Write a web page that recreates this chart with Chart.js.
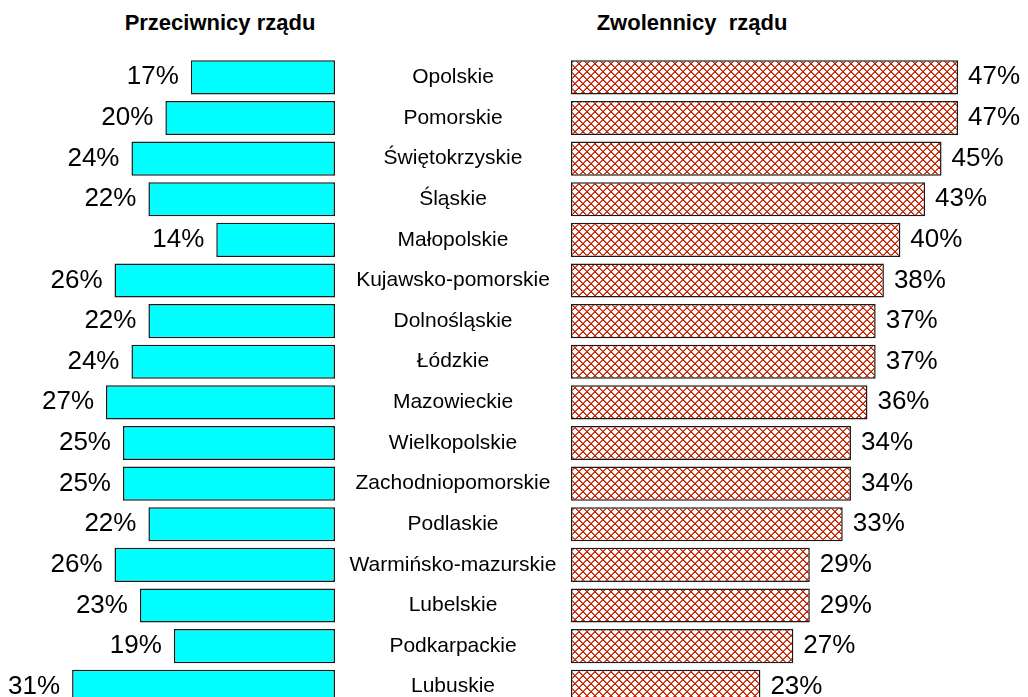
<!DOCTYPE html>
<html lang="pl">
<head>
<meta charset="utf-8">
<title>Przeciwnicy i zwolennicy rządu</title>
<script src="https://cdn.jsdelivr.net/npm/chart.js@4.4.1/dist/chart.umd.min.js"></script>
<style>
  html, body { margin: 0; padding: 0; background: #fff; overflow: hidden; }
  body { width: 1028px; height: 697px; position: relative; font-family: Arial, "Liberation Sans", sans-serif; }
  .title { position: absolute; top: 12px; font-weight: bold; font-size: 22px; line-height: 22px; color: #000; white-space: pre; transform: translateX(-50%); }
  #leftWrap  { position: absolute; left: 0;     top: 0; width: 571px; height: 720px; }
  #rightWrap { position: absolute; left: 571px; top: 0; width: 457px; height: 720px; }
</style>
</head>
<body>
<div class="title" style="left:220px">Przeciwnicy rządu</div>
<div class="title" style="left:692px">Zwolennicy  rządu</div>
<div id="leftWrap"><canvas id="leftChart"></canvas></div>
<div id="rightWrap"><canvas id="rightChart"></canvas></div>

<script>
// ── Data ─────────────────────────────────────────────
const regions = [
  'Opolskie', 'Pomorskie', 'Świętokrzyskie', 'Śląskie', 'Małopolskie',
  'Kujawsko-pomorskie', 'Dolnośląskie', 'Łódzkie', 'Mazowieckie', 'Wielkopolskie',
  'Zachodniopomorskie', 'Podlaskie', 'Warmińsko-mazurskie', 'Lubelskie',
  'Podkarpackie', 'Lubuskie'
];
const opponents = [17, 20, 24, 22, 14, 26, 22, 24, 27, 25, 25, 22, 26, 23, 19, 31];
const supporters = [47, 47, 45, 43, 40, 38, 37, 37, 36, 34, 34, 33, 29, 29, 27, 23];

const FONT = 'Arial, "Liberation Sans", sans-serif';
const LABEL_SIZE = 21;
const LABEL_GAP = 118;   // centre of the label column, measured from the left bars' base

// ── Crosshatch fill for the right bars ───────────────
function makeHatch() {
  const n = 8;
  const c = document.createElement('canvas');
  c.width = n; c.height = n;
  const g = c.getContext('2d');
  g.fillStyle = '#fff';
  g.fillRect(0, 0, n, n);
  for (let i = 0; i < n; i++) {
    // crisp pixel diagonals, with a softer neighbour to thicken the line a bit
    g.fillStyle = '#cc2200';
    g.fillRect(i, i, 1, 1);
    g.fillRect(n - 1 - i, i, 1, 1);
    g.fillStyle = 'rgba(204,34,0,0.7)';
    g.fillRect((i + 1) % n, i, 1, 1);
    g.fillRect((2 * n - 2 - i) % n, i, 1, 1);
  }
  return g.createPattern(c, 'repeat');
}

// ── Percent labels at the bar ends ──────────────────
const valueLabels = {
  id: 'valueLabels',
  afterDatasetsDraw(chart, args, opts) {
    const { ctx } = chart;
    const meta = chart.getDatasetMeta(0);
    const data = chart.data.datasets[0].data;
    ctx.save();
    ctx.font = '26px ' + FONT;
    ctx.fillStyle = '#000';
    ctx.textBaseline = 'middle';
    ctx.textAlign = opts.side === 'left' ? 'right' : 'left';
    meta.data.forEach((bar, i) => {
      const x = opts.side === 'left' ? bar.x - 12 : bar.x + 10;
      ctx.fillText(data[i] + '%', x, bar.y);
    });
    ctx.restore();
  }
};

// label column: centre the region names between the two bar groups
const measureCtx = document.createElement('canvas').getContext('2d');
measureCtx.font = LABEL_SIZE + 'px ' + FONT;
const widest = Math.max(...regions.map(r => measureCtx.measureText(r).width));

const commonOpts = {
  responsive: true,
  maintainAspectRatio: false,
  animation: false,
  indexAxis: 'y',
  layout: { padding: { top: 57, bottom: 13, left: 0, right: 0 } },
  plugins: { legend: { display: false }, tooltip: { enabled: false } }
};

// ── Left: opponents (bars grow to the left) ─────────
new Chart(document.getElementById('leftChart'), {
  type: 'bar',
  data: {
    labels: regions,
    datasets: [{
      data: opponents,
      backgroundColor: '#00ffff',
      borderColor: '#1a1a1a',
      borderWidth: 1.5,
      borderSkipped: false,
      barPercentage: 1,
      categoryPercentage: 0.84
    }]
  },
  options: {
    ...commonOpts,
    scales: {
      x: { reverse: true, min: 0, max: 39.5, display: false },
      y: {
        position: 'right',
        grid: { display: false, drawTicks: false },
        border: { display: false },
        ticks: {
          crossAlign: 'center',
          padding: LABEL_GAP - widest / 2,
          color: '#000',
          font: { family: FONT, size: LABEL_SIZE }
        },
        afterFit(scale) {
          scale.width = 236;
          // keep the rows aligned with the right-hand chart
          scale.paddingTop = 0;
          scale.paddingBottom = 0;
        }
      }
    },
    plugins: { ...commonOpts.plugins, valueLabels: { side: 'left' } }
  },
  plugins: [valueLabels]
});

// ── Right: supporters (hatched bars) ────────────────
new Chart(document.getElementById('rightChart'), {
  type: 'bar',
  data: {
    labels: regions,
    datasets: [{
      data: supporters,
      backgroundColor: makeHatch(),
      borderColor: '#1a1a1a',
      borderWidth: 1.5,
      borderSkipped: false,
      barPercentage: 1,
      categoryPercentage: 0.84
    }]
  },
  options: {
    ...commonOpts,
    scales: {
      x: { min: 0, max: 55.5, display: false },
      y: { display: false }
    },
    plugins: { ...commonOpts.plugins, valueLabels: { side: 'right' } }
  },
  plugins: [valueLabels]
});
</script>
</body>
</html>
